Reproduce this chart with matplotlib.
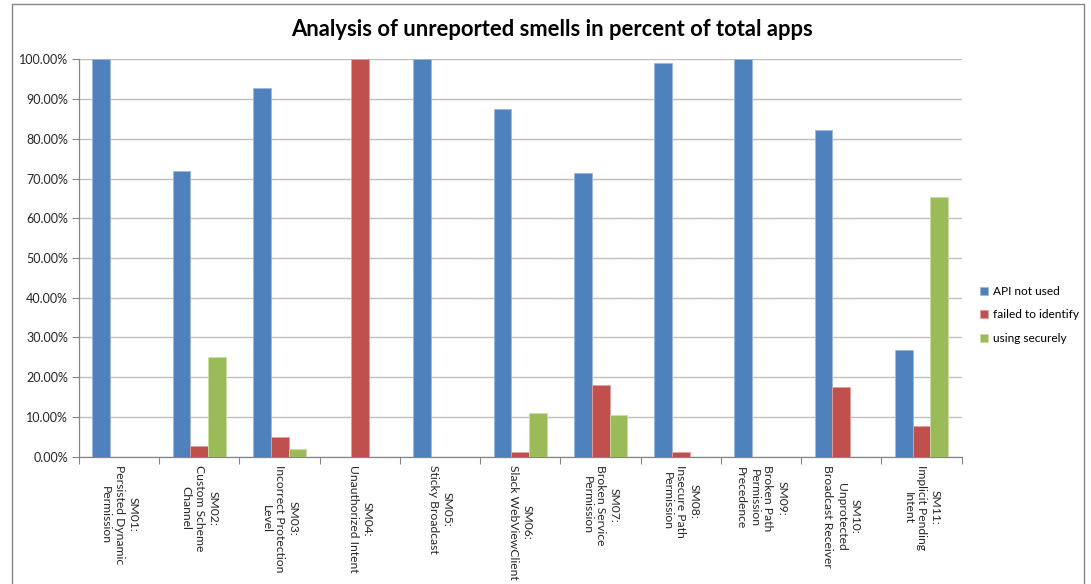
"""Unreported smells per category, percent of total apps."""
import matplotlib.pyplot as plt
import numpy as np
from matplotlib.patches import Rectangle
from matplotlib.ticker import FuncFormatter

plt.rcParams["font.family"] = ["Lato", "DejaVu Sans"]

categories = [
    "SM01:\nPersisted Dynamic\nPermission",
    "SM02:\nCustom Scheme\nChannel",
    "SM03:\nIncorrect Protection\nLevel",
    "SM04:\nUnauthorized Intent",
    "SM05:\nSticky Broadcast",
    "SM06:\nSlack WebViewClient",
    "SM07:\nBroken Service\nPermission",
    "SM08:\nInsecure Path\nPermission",
    "SM09:\nBroken Path\nPermission\nPrecedence",
    "SM10:\nUnprotected\nBroadcast Receiver",
    "SM11:\nImplicit Pending\nIntent",
]
api_not_used = [100.0, 71.8, 92.8, 0.0, 100.0, 87.6, 71.5, 99.0, 100.0, 82.3, 26.9]
failed_to_identify = [0.0, 2.8, 5.0, 100.0, 0.0, 1.2, 18.0, 1.1, 0.0, 17.6, 7.7]
using_securely = [0.0, 25.2, 1.9, 0.0, 0.0, 11.1, 10.5, 0.0, 0.0, 0.0, 65.4]

series = [
    ("API not used", api_not_used, "#4F81BD", "#9DB9DE"),
    ("failed to identify", failed_to_identify, "#C0504D", "#E3A09E"),
    ("using securely", using_securely, "#9BBB59", "#C9DCA6"),
]

W, H = 1091, 584
fig = plt.figure(figsize=(W / 100, H / 100), dpi=100)
ax = fig.add_axes([79 / W, 1 - 456.7 / H, 882.7 / W, 397.4 / H])

x = np.arange(len(categories))
width = 0.222
for k, (name, vals, color, edge) in enumerate(series):
    ax.bar(x + (k - 1) * width, vals, width, color=color, edgecolor=edge,
           linewidth=0.6, label=name, zorder=3)

ax.set_xlim(-0.5, len(categories) - 0.5)
ax.set_ylim(0, 100)
ax.set_yticks(np.arange(0, 101, 10))
ax.yaxis.set_major_formatter(FuncFormatter(lambda v, _: f"{v:.2f}%"))
ax.grid(axis="y", color="#C0C0C0", linewidth=1.0, zorder=0)
ax.tick_params(axis="y", length=5, width=0.8, color="#868686", labelsize=9,
               labelcolor="#262626", pad=3)

ax.set_xticks(x, categories, rotation=270, ha="center", va="top",
              multialignment="center", fontsize=8.7, color="#262626",
              linespacing=1.3)
ax.tick_params(axis="x", length=0, pad=6)
ax.set_xticks(np.arange(-0.5, len(categories)), minor=True)
ax.tick_params(axis="x", which="minor", length=5, width=0.8, color="#868686")

for side in ("top", "right"):
    ax.spines[side].set_visible(False)
for side in ("left", "bottom"):
    ax.spines[side].set_color("#868686")
    ax.spines[side].set_linewidth(0.9)

fig.text(552 / W, 1 - 30 / H, "Analysis of unreported smells in percent of total apps",
         ha="center", va="center", fontsize=15.8, fontweight="bold")

ax.legend(loc="center left", bbox_to_anchor=(972 / W, 1 - 315 / H),
          bbox_transform=fig.transFigure, frameon=False, fontsize=8.6,
          handlelength=0.6, handleheight=0.6, handletextpad=0.45,
          labelspacing=1.05, borderpad=0.2)

fig.patches.append(Rectangle((12 / W, -0.1), 1072 / W, 1.1 - 4 / H,
                             transform=fig.transFigure, fill=False,
                             edgecolor="#868686", linewidth=1.0))

fig.savefig("out.png", dpi=100)
